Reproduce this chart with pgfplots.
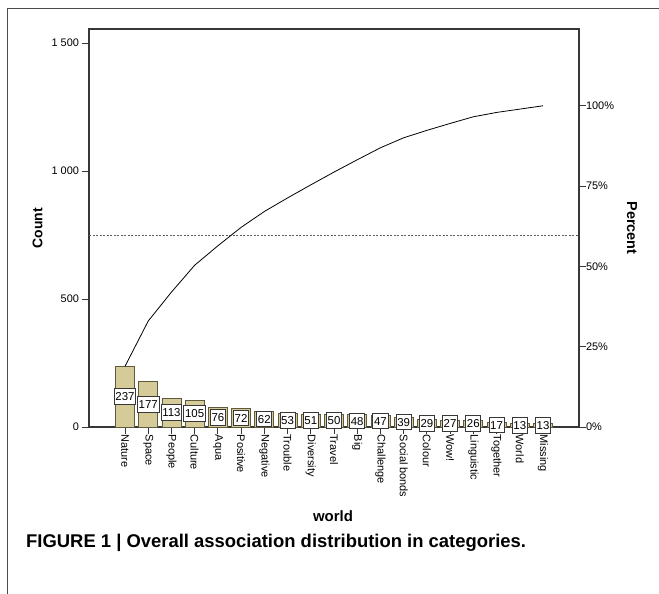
\documentclass[border=0pt]{standalone}
\usepackage{pgfplots}
\pgfplotsset{compat=1.18}
\usepackage{pgfplotstable}
\usepackage{fontspec}
\setmainfont{Liberation Sans}
\definecolor{barfill}{RGB}{212,203,153}
\definecolor{baredge}{RGB}{95,90,60}
\definecolor{axgray}{RGB}{55,55,55}

\pgfplotstableread{
x y cum
0 237 237
1 177 414
2 113 527
3 105 632
4 76 708
5 72 780
6 62 842
7 53 895
8 51 946
9 50 996
10 48 1044
11 47 1091
12 39 1130
13 29 1159
14 27 1186
15 26 1212
16 17 1229
17 13 1242
18 13 1255
}\data

\begin{document}
\begin{tikzpicture}
\path[use as bounding box] (0bp,0bp) rectangle (659bp,-594bp);
\draw[axgray!90, line width=0.8bp] (7bp,-594bp) -- (7bp,-8bp) -- (659bp,-8bp);
\begin{axis}[
  at={(89bp,-427bp)}, anchor=south west,
  scale only axis, width=490bp, height=398bp,
  xmin=-1.55, xmax=19.55, ymin=0, ymax=1555,
  axis line style={axgray, line width=1.1bp},
  xtick={0,...,18},
  xticklabels={Nature,Space,People,Culture,Aqua,Positive,Negative,Trouble,Diversity,Travel,Big,Challenge,Social bonds,Colour,Wow!,Linguistic,Together,World,Missing},
  xtick pos=bottom, ytick pos=left,
  tick align=outside, major tick length=6.5bp,
  tick style={axgray, line width=0.8bp},
  xticklabel style={rotate=-90, anchor=west, font=\fontsize{11}{12}\selectfont, inner sep=1bp},
  yticklabel style={font=\fontsize{11}{13}\selectfont},
  ytick={0,500,1000,1500}, yticklabels={0,500,1 000,1 500},
  /pgf/number format/assume math mode=true,
  clip=false,
]
\addplot[ybar, bar width=19bp, fill=barfill, draw=baredge, line width=0.8bp] table[x=x,y=y]{\data};
\addplot[axgray!80, dash pattern=on 2bp off 1.5bp, line width=0.9bp] coordinates {(-1.55,750) (19.55,750)};
\addplot[black, line width=0.8bp, mark=none] table[x=x,y=cum]{\data};
\addplot[draw=none, mark=none, nodes near coords, point meta=explicit,
  nodes near coords style={anchor=center, fill=white, draw=axgray, line width=0.9bp,
    font=\fontsize{11.5}{12}\selectfont, inner xsep=1.2bp, inner ysep=3.5bp, text height=8.5bp, text depth=0bp}]
  table[x=x, y expr=\thisrow{y}/2, meta=y]{\data};
\end{axis}
\begin{axis}[
  at={(89bp,-427bp)}, anchor=south west,
  scale only axis, width=490bp, height=398bp,
  xmin=-1.55, xmax=19.55, ymin=0, ymax=123.9,
  axis x line=none, axis y line*=right,
  axis line style={axgray, line width=1.1bp},
  tick align=outside, major tick length=6.5bp,
  tick style={axgray, line width=0.8bp},
  ytick={0,25,50,75,100}, yticklabels={0\%,25\%,50\%,75\%,100\%},
  yticklabel style={font=\fontsize{11}{13}\selectfont, xshift=-3bp},
  /pgf/number format/assume math mode=true,
]
\addplot[draw=none] coordinates {(0,0)};
\end{axis}
\node[rotate=90, font=\bfseries\fontsize{14}{16}\selectfont] at (37.5bp,-228bp) {Count};
\node[rotate=-90, font=\bfseries\fontsize{14.5}{16}\selectfont] at (632bp,-228bp) {Percent};
\node[font=\bfseries\fontsize{15}{17}\selectfont] at (333bp,-516bp) {world};
\node[anchor=west, font=\bfseries\fontsize{18.5}{20}\selectfont, inner sep=0pt] at (26bp,-543bp) {FIGURE 1 | Overall association distribution in categories.};
\end{tikzpicture}
\end{document}
